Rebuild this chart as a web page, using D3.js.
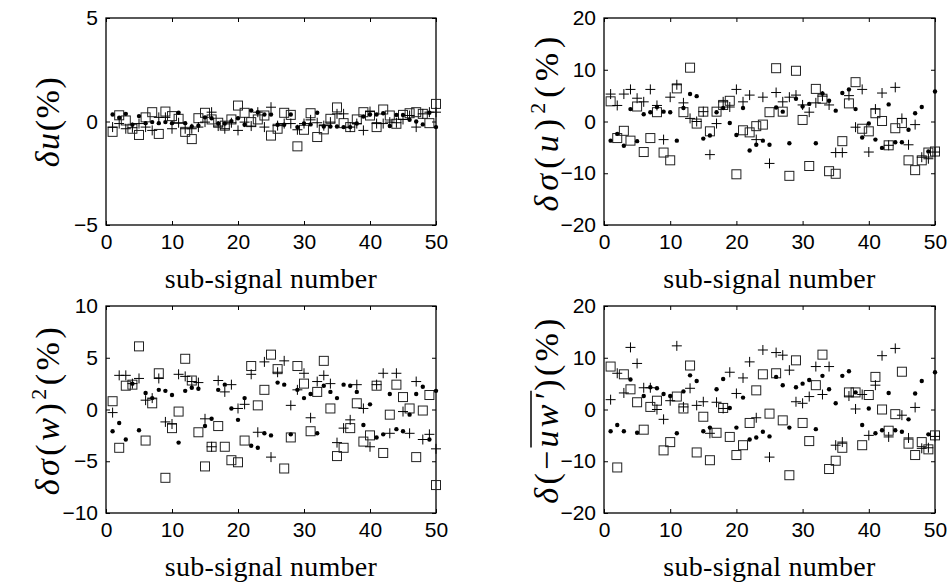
<!DOCTYPE html>
<html>
<head>
<meta charset="utf-8">
<script src="https://cdn.jsdelivr.net/npm/d3@7"></script>
<style>
  body { margin: 0; background: #fff; }
  svg { display: block; }
  .tick text { font-family: "Liberation Sans", Arial, sans-serif; font-size: 21px; fill: #000; }
  .ylab, .xlab { font-family: "Liberation Serif", "DejaVu Serif", serif; fill: #000; }
  .ylab { font-size: 34px; }
  .xlab { font-size: 28px; }
</style>
</head>
<body>
<div id="chart"></div>
<script>
// four panels of sub-signal errors, three estimators each (dot, plus, square)
const W = 951, H = 583;

const subSignals = d3.range(1, 51);
const xTicks = [0, 10, 20, 30, 40, 50];

// panel (a) delta u
const uDot = [0.34,0.18,0.37,-0.16,0.26,-0.08,-0.03,-0.08,-0.03,-0.08,0.42,-0.08,-0.24,-0.2,0.2,0.16,-0.1,-0.1,0.02,0.16,-0.16,0.53,0.45,0.34,0.34,
  -0.16,-0.16,0.34,-0.27,-0.1,-0.14,0.42,-0.24,-0.24,-0.24,-0.27,-0.27,-0.1,0.24,0.34,0.34,0.4,-0.22,0.32,0.32,0.08,0,-0.14,0.42,-0.27];
const uPlus = [-0.27,-0.1,-0.35,-0.3,-0.1,-0.27,-0.43,0.2,0.2,-0.35,-0.06,-0.35,-0.35,-0.27,-0.03,0.45,-0.22,-0.35,-0.06,-0.43,-0.03,-0.22,0.45,-0.27,0.69,
  -0.2,-0.1,-0.1,-0.4,-0.1,0.08,-0.06,-0.2,-0.03,0.37,0.37,-0.27,-0.1,-0.43,0.48,-0.1,-0.1,-0.03,-0.06,0.1,0.29,-0.27,0.37,0.45,0.45];
const uSquare = [-0.5,0.3,0.05,-0.35,-0.65,0.2,0.45,-0.6,0.48,0.26,0.13,-0.5,-0.85,0.16,0.42,0.1,-0.06,-0.2,0.1,0.77,0.42,-0.03,0.1,0.29,-0.68,
  -0.35,0.42,0.32,-1.2,-0.4,0.4,-0.75,-0.38,0.13,0.68,-0.08,-0.27,0.1,0.45,0.29,-0.27,0.58,0.29,-0.11,0.32,0.4,0.45,0.37,-0.08,0.85];

// panel (b) delta sigma(u)^2
const suDot = [-3.7,-2.4,-4.7,2.4,-3.8,1.4,1.8,2.8,1.9,1.8,-3.7,2.6,5.3,4.9,-3.3,-2.7,1.8,2.6,-0.3,-2.6,2.6,-5.6,-4.5,-3.7,-4.5,
  2.7,1.9,-4.2,4.4,2.9,3.4,-4.2,5.4,4,2.1,5.5,6.2,2.4,-3.1,-0.4,-3.5,-5.1,3.3,-4,-4,-1.6,1.6,2.8,-5.8,5.8];
const suPlus = [5.3,3.1,5.3,6.2,4.5,3.8,6.2,3.1,-3.5,4.7,7.1,3.6,0.6,0,1.9,-6.4,-0.4,3.8,2.8,6.2,3.8,5.1,-3.5,4.7,-8.1,
  5.6,3.8,4.7,5.1,3.2,1.8,3.6,4.9,3.2,-6,-6,5,-1.1,6.2,-5.9,2.4,5.5,-4.6,6.6,0.6,-4.5,-0.6,-6.9,-7.2,-5.9];
const suSquare = [3.9,-3.2,-1.8,-3.7,2.9,-5.9,-3.2,1.8,-6,-7.5,6.4,1.8,10.4,-0.4,1.9,-1.9,1.9,3.2,4,-10.2,-1.7,-2.1,-0.9,-0.6,1.8,
  10.3,1.9,-10.5,9.8,0.3,-8.6,6.3,4.4,-9.6,-10.1,-3.8,3.5,7.6,-1.4,-1.9,1.6,0.1,-4.6,-1.3,-0.3,-7.5,-9.4,-7.5,-6,-5.8];

// panel (c) delta sigma(w)^2
const swDot = [-2.1,-1.3,-2.9,2.5,-2,1.6,1.1,1.9,1.8,1.4,-3.2,1.8,2.1,2,-1.6,-0.9,1.9,2.4,0.1,-1,1.1,-3.5,-3.7,-2.3,-2.5,
  2.6,2.4,-2.4,1.9,1.1,1.5,-2.3,2.3,1.7,1.1,2.4,2.3,1.7,-1.5,0.5,-2.7,-2.4,1.5,-1.9,-2.1,-0.5,1.5,2.2,-2.9,1.8];
const swPlus = [-0.3,3.3,3.3,2.5,3,0.9,1.1,3,-1.2,-1.4,3.4,3.2,2.7,2.6,-0.9,-3.6,2.8,1.7,2.4,0.1,0.5,3.4,-2.2,4.6,-4.6,
  3.6,4.7,0.4,1.9,3.5,-0.8,2.7,3.3,2.5,-3.2,-1.8,-1,2.4,0.1,-3.6,2.4,3.5,-2.3,3.5,-0.2,-2.3,2.7,-2.9,-2.4,-3.8];
const swSquare = [0.8,-3.7,2.3,2.4,6.1,-3,0.6,3.5,-6.6,-1.8,-0.2,4.9,2.8,-2.2,-5.5,-3.6,-1.6,-3.6,-4.9,-5.1,-3,4.2,0.4,1.9,5.3,
  3.9,-5.7,-2.7,4.2,2.5,-2.1,1.7,4.7,0.1,-4.5,-3.7,-1.8,0.6,-3.1,-2.5,2.3,-4.2,-0.5,2.4,1.2,0.1,-4.6,-0.1,1.4,-7.3];

// panel (d) delta(-uw')
const uwDot = [-4.2,-3,-4.2,5.8,-4.5,2.6,4.3,4.1,3,2.6,-4.6,3.5,6.6,5.5,-4.2,-3.5,3.9,5.9,0.3,-3.5,2.3,-5.8,-5.4,-4.3,-5.2,
  6.3,4.7,-3.5,4.3,5,5.7,-3.8,6.5,3.9,1.2,6.5,7.4,3.3,-3,0.2,-4.6,-4,3.2,-4,-4.3,-1.9,3.1,5.5,-4.8,7.2];
const uwPlus = [1.9,7,3.2,12,8.9,4.2,4.2,0,-1.9,1.7,12.3,0.5,4.1,0.8,1.5,-4.6,1.4,0.2,7.2,3.1,6.1,9.2,-1.6,11.5,-9.2,
  11,10.5,7.6,1.5,1.2,2.5,8.3,2.9,8.3,-6.9,-6.3,2.6,0.1,2.9,-5,4.7,10.4,-5.3,11.8,-1.1,-5.5,0.4,-7.5,-7.4,-5.2];
const uwSquare = [8.3,-11.2,6.8,3.9,1.4,-3.9,0.5,1.7,-7.9,-6.3,2.5,0.2,8.5,-8.3,-1.4,-9.8,-4.5,0.3,-5.3,-8.8,-6.9,-2.6,3.7,6.8,-0.8,
  7,-2.1,-12.7,9.5,-2.6,-6.1,4.7,10.6,-11.5,-9.9,-7.4,3.3,3.3,-6.9,2.8,6.3,0,-4.1,-0.9,7.3,-6.6,-8.8,-6.3,-7.7,-5];

const uTicks = [-5, 0, 5];
const suTicks = [-20, -10, 0, 10, 20];
const swTicks = [-10, -5, 0, 5, 10];
const uwTicks = [-20, -10, 0, 10, 20];

const panels = [
  {x0: 106, x1: 436, y0: 18, y1: 225, ticks: uTicks, dot: uDot, plus: uPlus, square: uSquare, label: "u", lx: 59, len: 90},
  {x0: 604, x1: 935, y0: 18, y1: 225, ticks: suTicks, dot: suDot, plus: suPlus, square: suSquare, label: "su", lx: 558, len: 175},
  {x0: 106, x1: 436, y0: 306, y1: 513, ticks: swTicks, dot: swDot, plus: swPlus, square: swSquare, label: "sw", lx: 59, len: 168},
  {x0: 604, x1: 935, y0: 306, y1: 513, ticks: uwTicks, dot: uwDot, plus: uwPlus, square: uwSquare, label: "uw", lx: 558, len: 185}
];

const svg = d3.select('#chart').append('svg')
  .attr('width', W)
  .attr('height', H);

// spread letters so that a label covers the wanted length
function fit(text, target) {
  const node = text.node();
  const n = node.getNumberOfChars();
  const len = node.getComputedTextLength();
  text.style('letter-spacing', ((target - len) / (n - 1)) + 'px');
}

panels.forEach(p => {
  const x = d3.scaleLinear().domain([0, 50]).range([p.x0, p.x1]);
  const y = d3.scaleLinear().domain(d3.extent(p.ticks)).range([p.y1, p.y0]);
  const g = svg.append('g');

  // axes: ticks inward on all four sides, labels only bottom/left
  g.append('g').attr('transform', `translate(0,${p.y1})`)
    .call(d3.axisBottom(x).tickValues(xTicks).tickSize(-4).tickPadding(9).tickFormat(d3.format('d')))
    .call(a => a.select('.domain').remove());
  g.append('g').attr('transform', `translate(0,${p.y0})`)
    .call(d3.axisTop(x).tickValues(xTicks).tickSize(-4).tickFormat(''))
    .call(a => a.select('.domain').remove());
  g.append('g').attr('transform', `translate(${p.x0},0)`)
    .call(d3.axisLeft(y).tickValues(p.ticks).tickSize(-4).tickPadding(8).tickFormat(d => d3.format('d')(d).replace('-', '\u2212')))
    .call(a => a.select('.domain').remove());
  g.append('g').attr('transform', `translate(${p.x1},0)`)
    .call(d3.axisRight(y).tickValues(p.ticks).tickSize(-4).tickFormat(''))
    .call(a => a.select('.domain').remove());
  g.selectAll('.tick line').attr('stroke', '#000');

  g.append('rect')
    .attr('x', p.x0).attr('y', p.y0)
    .attr('width', p.x1 - p.x0).attr('height', p.y1 - p.y0)
    .attr('fill', 'none').attr('stroke', '#000').attr('stroke-width', 1.3);

  // squares
  g.append('g').selectAll('rect')
    .data(subSignals)
    .join('rect')
    .attr('x', d => x(d) - 4.5)
    .attr('y', (d, i) => y(p.square[i]) - 4.5)
    .attr('width', 9).attr('height', 9)
    .attr('fill', 'none').attr('stroke', '#222').attr('stroke-width', 1);

  // pluses
  g.append('g').selectAll('path')
    .data(subSignals)
    .join('path')
    .attr('d', (d, i) => {
      const cx = x(d), cy = y(p.plus[i]);
      return `M${cx - 5},${cy}H${cx + 5}M${cx},${cy - 5}V${cy + 5}`;
    })
    .attr('stroke', '#000').attr('stroke-width', 1).attr('fill', 'none');

  // dots
  g.append('g').selectAll('circle')
    .data(subSignals)
    .join('circle')
    .attr('cx', d => x(d))
    .attr('cy', (d, i) => y(p.dot[i]))
    .attr('r', 2.2)
    .attr('fill', '#000');

  const xl = svg.append('text')
    .attr('class', 'xlab')
    .attr('x', (p.x0 + p.x1) / 2)
    .attr('y', p.y1 + 63)
    .attr('text-anchor', 'middle')
    .text('sub-signal number');
  fit(xl, 212);

  const lg = svg.append('g')
    .attr('transform', `translate(${p.lx},${(p.y0 + p.y1) / 2}) rotate(-90)`);
  const yl = lg.append('text')
    .attr('class', 'ylab')
    .attr('text-anchor', 'middle');
  const it = s => yl.append('tspan').attr('font-style', 'italic').text(s);
  const rm = s => yl.append('tspan').text(s);
  const sup = s => yl.append('tspan').attr('font-size', 22).attr('dy', -13).text(s);
  if (p.label === 'u') { it('δu'); rm('(%)'); }
  if (p.label === 'su') { it('δσ'); rm('('); it('u'); rm(')'); sup('2'); yl.append('tspan').attr('dy', 13).text('(%)'); }
  if (p.label === 'sw') { it('δσ'); rm('('); it('w'); rm(')'); sup('2'); yl.append('tspan').attr('dy', 13).text('(%)'); }
  if (p.label === 'uw') { it('δ'); rm('(−'); it("uw′"); rm(')(%)'); }
  fit(yl, p.len);

  if (p.label === 'uw') {
    // bar over uw'
    const node = yl.node();
    const a = node.getExtentOfChar(3), b = node.getExtentOfChar(5);
    lg.append('line')
      .attr('x1', a.x).attr('x2', b.x + b.width)
      .attr('y1', -27).attr('y2', -27)
      .attr('stroke', '#000').attr('stroke-width', 1.5);
  }
});
</script>
</body>
</html>
